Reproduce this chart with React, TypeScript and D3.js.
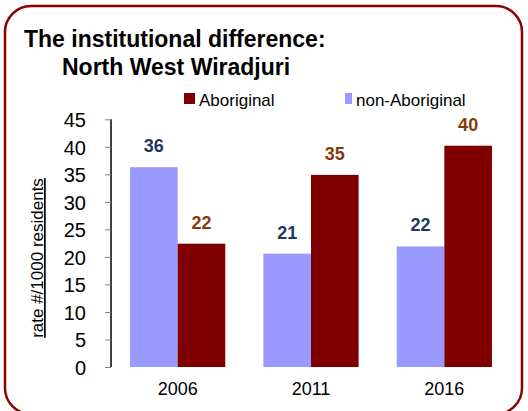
import React, { useEffect, useRef } from 'react';
import * as d3 from 'd3';

const years = ['2006', '2011', '2016'];
const nonAboriginal = [36.3, 20.6, 21.9];
const aboriginal = [22.4, 34.9, 40.2];
const yTicks = [0, 5, 10, 15, 20, 25, 30, 35, 40, 45];
const seriesNames = ['non-Aboriginal', 'Aboriginal'];

const FONT = '"Liberation Sans", Arial, sans-serif';

const App = () => {
  const svgRef = useRef<SVGSVGElement>(null);

  useEffect(() => {
    const width = 528;
    const height = 411;
    const svg = d3.select(svgRef.current);
    svg.selectAll('*').remove();
    svg.attr('width', width).attr('height', height);

    // frame
    svg.append('rect')
      .attr('x', 5).attr('y', 6)
      .attr('width', 517).attr('height', 408)
      .attr('rx', 26).attr('ry', 26)
      .attr('fill', 'white')
      .attr('stroke', '#8b0000')
      .attr('stroke-width', 2.5);

    // title
    svg.append('text')
      .attr('x', 24).attr('y', 47)
      .style('font-family', FONT).style('font-weight', 'bold').style('font-size', '23px')
      .text('The institutional difference:');
    svg.append('text')
      .attr('x', 62).attr('y', 75)
      .style('font-family', FONT).style('font-weight', 'bold').style('font-size', '23px')
      .text('North West Wiradjuri');

    const x = d3.scaleBand().domain(years).range([111, 511]);
    const xSub = d3.scaleBand().domain(seriesNames).range([0, x.bandwidth()]).paddingOuter(0.4);
    const y = d3.scaleLinear().domain([0, 45]).range([367, 119.3]);

    const rows = years.map((yr, i) => ({ year: yr, values: [
      { key: 'non-Aboriginal', v: nonAboriginal[i], fill: '#9999ff', label: '#1f3864' },
      { key: 'Aboriginal', v: aboriginal[i], fill: '#800000', label: '#843c0c' },
    ] }));

    const groups = svg.selectAll('g.year')
      .data(rows)
      .enter()
      .append('g')
      .attr('class', 'year')
      .attr('transform', d => `translate(${x(d.year)},0)`);

    groups.selectAll('rect')
      .data(d => d.values)
      .enter()
      .append('rect')
      .attr('x', d => xSub(d.key)!)
      .attr('y', d => y(d.v))
      .attr('width', xSub.bandwidth())
      .attr('height', d => y(0) - y(d.v))
      .attr('fill', d => d.fill);

    groups.selectAll('text.val')
      .data(d => d.values)
      .enter()
      .append('text')
      .attr('class', 'val')
      .attr('x', d => xSub(d.key)! + xSub.bandwidth() / 2)
      .attr('y', d => y(d.v) - 15)
      .attr('text-anchor', 'middle')
      .style('font-family', FONT).style('font-weight', 'bold').style('font-size', '18px')
      .attr('fill', d => d.label)
      .text(d => Math.round(d.v));

    // y axis
    const yAxis = svg.append('g')
      .attr('transform', 'translate(111,0)')
      .call(d3.axisLeft(y).tickValues(yTicks).tickSize(6).tickPadding(19).tickFormat(d3.format('d')));
    yAxis.select('.domain').attr('stroke', '#000').attr('stroke-width', 1.5).attr('d', `M0,${y(45)}V${y(0)}`);
    yAxis.selectAll('.tick line').attr('stroke', '#808080');
    yAxis.selectAll('.tick text')
      .attr('fill', '#000')
      .style('font-family', FONT).style('font-size', '20px')
      .attr('dy', '0.36em');

    // x labels
    svg.selectAll('text.xl')
      .data(years)
      .enter()
      .append('text')
      .attr('class', 'xl')
      .attr('x', d => x(d)! + x.bandwidth() / 2)
      .attr('y', 395)
      .attr('text-anchor', 'middle')
      .style('font-family', FONT).style('font-size', '18px')
      .text(d => d);

    // y title
    svg.append('text')
      .attr('transform', 'translate(43,258) rotate(-90)')
      .attr('text-anchor', 'middle')
      .style('font-family', FONT).style('font-size', '17px')
      .style('text-decoration', 'underline')
      .text('rate #/1000 residents');

    // legend
    const legend = [
      { name: 'Aboriginal', fill: '#800000', x: 184, w: 11 },
      { name: 'non-Aboriginal', fill: '#9999ff', x: 345, w: 7 },
    ];
    const lg = svg.selectAll('g.lg').data(legend).enter().append('g').attr('class', 'lg');
    lg.append('rect')
      .attr('x', d => d.x).attr('y', 93)
      .attr('width', d => d.w).attr('height', 11)
      .attr('fill', d => d.fill);
    lg.append('text')
      .attr('x', d => d.x + d.w + 4).attr('y', 106)
      .style('font-family', FONT).style('font-size', '17px')
      .text(d => d.name);
  }, []);

  return (
    <svg ref={svgRef} style={{ position: 'absolute', left: 0, top: 0, display: 'block' }}></svg>
  );
};

export default App;
